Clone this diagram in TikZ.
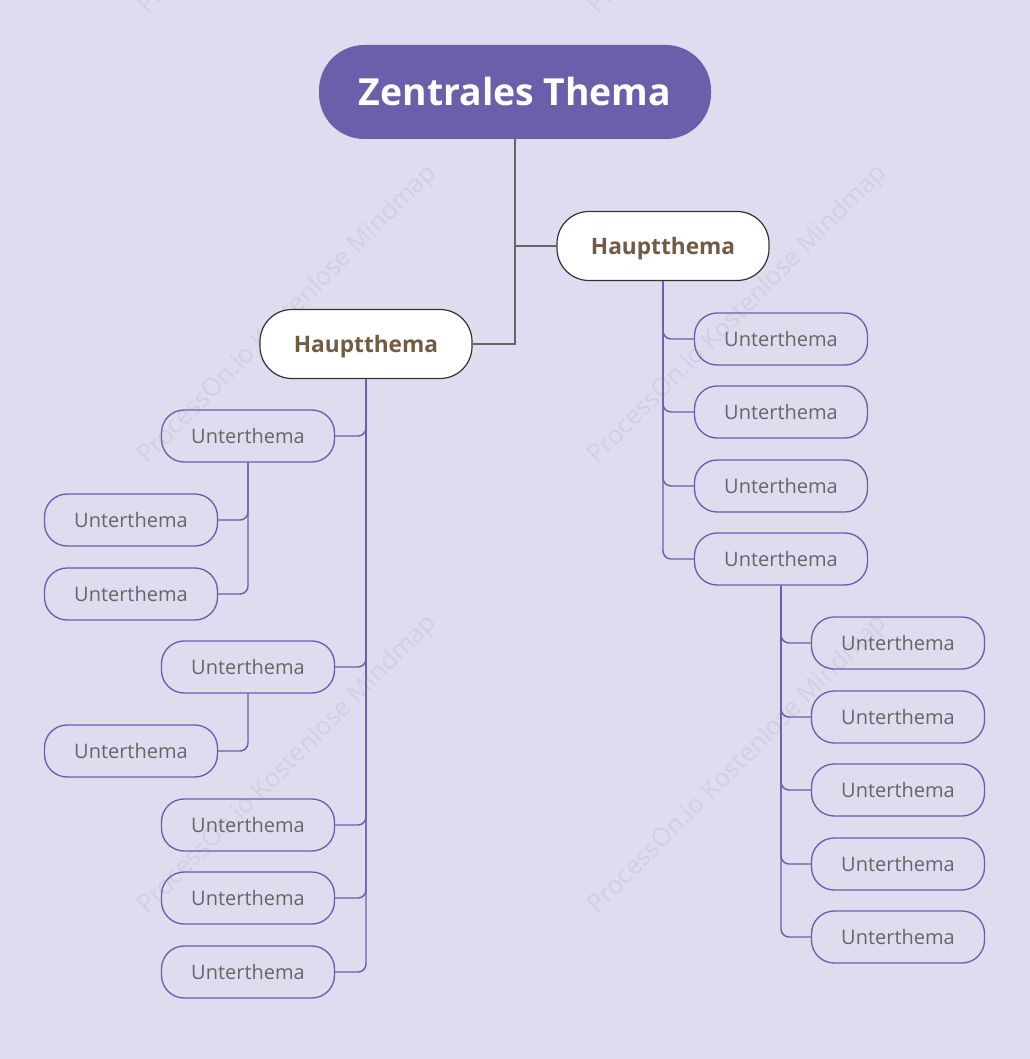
\documentclass[tikz,border=0pt]{standalone}
\usepackage{fontspec}
\setmainfont{Open Sans}

\definecolor{bgviolet}{HTML}{DFDCF0}
\definecolor{themaviolet}{HTML}{6A5FAA}
\definecolor{hauptbraun}{HTML}{735A44}
\definecolor{untergrau}{HTML}{666666}

\tikzset{
  zentral/.style={fill=themaviolet, text=white, inner sep=0pt,
    font=\bfseries\fontsize{28}{34}\selectfont,
    minimum width=294pt, minimum height=70.5pt, rounded corners=34pt},
  haupt/.style={draw=black!80, line width=0.9pt, fill=white, text=hauptbraun,
    font=\bfseries\fontsize{17}{21}\selectfont, text depth=0pt,
    minimum width=159pt, minimum height=51.75pt, rounded corners=24pt},
  unter/.style={draw=themaviolet, line width=1pt, text=untergrau,
    font=\fontsize{15}{18}\selectfont,
    minimum width=129.75pt, minimum height=39pt, rounded corners=17pt},
  hauptast/.style={draw=untergrau, line width=2.2pt},
  unterast/.style={draw=themaviolet, line width=1.1pt, rounded corners=6pt},
  wasserzeichen/.style={rotate=45, text=black, text opacity=0.06,
    font=\fontsize{19}{22}\selectfont}
}

\begin{document}
\begin{tikzpicture}[x=0.75pt, y=-0.75pt]

  % --- Hintergrund ---
  \useasboundingbox (0,0) rectangle (1030,1059);
  \fill[bgviolet] (0,0) rectangle (1030,1059);

  % --- Wasserzeichen ---
  \begin{scope}
    \clip (0,0) rectangle (1030,1059);
    \node[wasserzeichen] (wz1) at (288,-135) {ProcessOn.io Kostenlose Mindmap};
    \node[wasserzeichen] (wz2) at (738,-135) {ProcessOn.io Kostenlose Mindmap};
    \node[wasserzeichen] (wz3) at (288,315) {ProcessOn.io Kostenlose Mindmap};
    \node[wasserzeichen] (wz4) at (738,315) {ProcessOn.io Kostenlose Mindmap};
    \node[wasserzeichen] (wz5) at (288,765) {ProcessOn.io Kostenlose Mindmap};
    \node[wasserzeichen] (wz6) at (738,765) {ProcessOn.io Kostenlose Mindmap};
  \end{scope}

  % --- Zentrales Thema und Hauptthemen ---
  \node[zentral] (zt) at (515,92) {Zentrales Thema};
  \node[haupt] (hr) at (663,246) {Hauptthema};
  \node[haupt] (hl) at (366,344) {Hauptthema};

  % --- linker Ast ---
  \node[unter] (l1) at (248,436) {Unterthema};
  \node[unter] (l1a) at (131,520) {Unterthema};
  \node[unter] (l1b) at (131,594) {Unterthema};
  \node[unter] (l2) at (248,667) {Unterthema};
  \node[unter] (l2a) at (131,751) {Unterthema};
  \node[unter] (l3) at (248,825) {Unterthema};
  \node[unter] (l4) at (248,898) {Unterthema};
  \node[unter] (l5) at (248,972) {Unterthema};

  % --- rechter Ast ---
  \node[unter] (r1) at (781,339) {Unterthema};
  \node[unter] (r2) at (781,412) {Unterthema};
  \node[unter] (r3) at (781,486) {Unterthema};
  \node[unter] (r4) at (781,559) {Unterthema};
  \node[unter] (r4a) at (898,643) {Unterthema};
  \node[unter] (r4b) at (898,717) {Unterthema};
  \node[unter] (r4c) at (898,790) {Unterthema};
  \node[unter] (r4d) at (898,864) {Unterthema};
  \node[unter] (r4e) at (898,937) {Unterthema};

  % --- Verbindungen ---
  \draw[hauptast] (zt.south) |- (hr.west);
  \draw[hauptast] (zt.south) |- (hl.east);

  \foreach \u in {l1,l2,l3,l4,l5}
    \draw[unterast] (hl.south) |- (\u.east);
  \foreach \u in {l1a,l1b}
    \draw[unterast] (l1.south) |- (\u.east);
  \draw[unterast] (l2.south) |- (l2a.east);

  \foreach \u in {r1,r2,r3,r4}
    \draw[unterast] (hr.south) |- (\u.west);
  \foreach \u in {r4a,r4b,r4c,r4d,r4e}
    \draw[unterast] (r4.south) |- (\u.west);

\end{tikzpicture}
\end{document}
